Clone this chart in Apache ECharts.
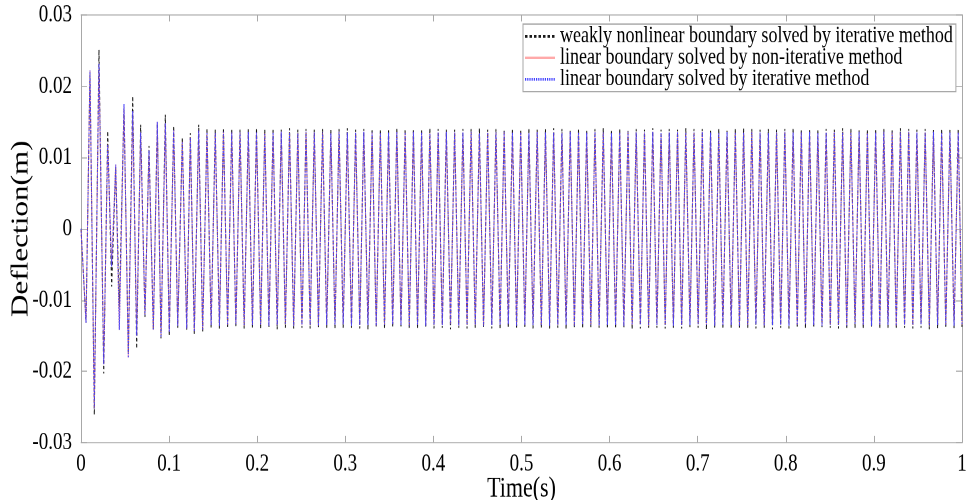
<!DOCTYPE html>
<html>
<head>
<meta charset="utf-8">
<script src="https://cdn.jsdelivr.net/npm/echarts@6/dist/echarts.min.js"></script>
<style>
	html, body { margin: 0; padding: 0; background: #fff; }
	#frame { width: 967px; height: 501px; position: relative; overflow: hidden; }
	/* the reference figure is stretched vertically, so draw flatter and stretch */
	#chart { position: absolute; left: 0; top: 0; width: 967px; height: 385.4px;
		transform: scaleY(1.3); transform-origin: 0 0; }
</style>
</head>
<body>
<div id="frame"><div id="chart"></div></div>
<script>
// times (s) of each turning point, start-up transient
var tStart = [
	0, 0.0057, 0.0102, 0.0151, 0.0204, 0.0258, 0.0303, 0.0348, 0.0394, 0.0435,
	0.0488, 0.0537, 0.0587, 0.0632, 0.0677, 0.0726, 0.0772, 0.0821, 0.0866, 0.0908,
	0.0957, 0.1002, 0.1052, 0.1098, 0.1150, 0.1200, 0.1241, 0.1286, 0.1336, 0.1381
];
// turning points after the transient (peak, trough, peak ...)
var tSteady = [
	0.1430, 0.1477, 0.1524, 0.1571, 0.1617, 0.1664, 0.1711, 0.1758, 0.1805, 0.1852,
	0.1899, 0.1946, 0.1992, 0.2039, 0.2086, 0.2133, 0.2180, 0.2227, 0.2273, 0.2320,
	0.2367, 0.2414, 0.2461, 0.2508, 0.2554, 0.2601, 0.2648, 0.2695, 0.2742, 0.2789,
	0.2836, 0.2883, 0.2929, 0.2976, 0.3023, 0.3070, 0.3117, 0.3164, 0.3210, 0.3257,
	0.3304, 0.3351, 0.3398, 0.3445, 0.3491, 0.3538, 0.3585, 0.3632, 0.3679, 0.3726,
	0.3773, 0.3820, 0.3866, 0.3913, 0.3960, 0.4007, 0.4054, 0.4101, 0.4147, 0.4194,
	0.4241, 0.4288, 0.4335, 0.4382, 0.4428, 0.4475, 0.4522, 0.4569, 0.4616, 0.4663,
	0.4710, 0.4757, 0.4803, 0.4850, 0.4897, 0.4944, 0.4991, 0.5038, 0.5084, 0.5131,
	0.5178, 0.5225, 0.5272, 0.5319, 0.5365, 0.5412, 0.5459, 0.5506, 0.5553, 0.5600,
	0.5647, 0.5694, 0.5740, 0.5787, 0.5834, 0.5881, 0.5928, 0.5975, 0.6021, 0.6068,
	0.6115, 0.6162, 0.6209, 0.6256, 0.6302, 0.6349, 0.6396, 0.6443, 0.6490, 0.6537,
	0.6584, 0.6631, 0.6677, 0.6724, 0.6771, 0.6818, 0.6865, 0.6912, 0.6958, 0.7005,
	0.7052, 0.7099, 0.7146, 0.7193, 0.7239, 0.7286, 0.7333, 0.7380, 0.7427, 0.7474,
	0.7521, 0.7568, 0.7614, 0.7661, 0.7708, 0.7755, 0.7802, 0.7849, 0.7895, 0.7942,
	0.7989, 0.8036, 0.8083, 0.8130, 0.8176, 0.8223, 0.8270, 0.8317, 0.8364, 0.8411,
	0.8458, 0.8505, 0.8551, 0.8598, 0.8645, 0.8692, 0.8739, 0.8786, 0.8832, 0.8879,
	0.8926, 0.8973, 0.9020, 0.9067, 0.9113, 0.9160, 0.9207, 0.9254, 0.9301, 0.9348,
	0.9395, 0.9442, 0.9488, 0.9535, 0.9582, 0.9629, 0.9676, 0.9723, 0.9769, 0.9816,
	0.9863, 0.9910, 0.9957, 1.0000
];

// weakly nonlinear boundary, iterative method (black dashed)
var nonlinStart = [
	0, -0.0132, 0.0220, -0.0261, 0.0251, -0.0203, 0.0137, -0.0081, 0.0086, -0.0110,
	0.0170, -0.0175, 0.0186, -0.0168, 0.0146, -0.0124, 0.0116, -0.0141, 0.0148, -0.0155,
	0.0160, -0.0150, 0.0144, -0.0139, 0.0128, -0.0142, 0.0134, -0.0148, 0.0146, -0.0145
];
var nonlinSteady = [
	0.0140,-0.0139,0.0139,-0.0140,0.0141,-0.0139,0.0140,-0.0138,0.0139,-0.0140,
	0.0140,-0.0139,0.0141,-0.0140,0.0139,-0.0139,0.0140,-0.0141,0.0139,-0.0139,
	0.0141,-0.0140,0.0139,-0.0139,0.0140,-0.0140,0.0139,-0.0138,0.0140,-0.0139,
	0.0139,-0.0140,0.0140,-0.0139,0.0141,-0.0139,0.0139,-0.0140,0.0140,-0.0141,
	0.0140,-0.0139,0.0139,-0.0140,0.0140,-0.0138,0.0141,-0.0139,0.0139,-0.0140,
	0.0140,-0.0140,0.0139,-0.0139,0.0141,-0.0140,0.0140,-0.0139,0.0139,-0.0141,
	0.0139,-0.0139,0.0140,-0.0140,0.0140,-0.0139,0.0141,-0.0138,0.0139,-0.0140,
	0.0140,-0.0141,0.0139,-0.0139,0.0140,-0.0140,0.0139,-0.0139,0.0141,-0.0140,
	0.0139,-0.0139,0.0140,-0.0140,0.0141,-0.0139,0.0140,-0.0141,0.0139,-0.0139,
	0.0140,-0.0140,0.0139,-0.0138,0.0140,-0.0139,0.0141,-0.0140,0.0139,-0.0140,
	0.0140,-0.0139,0.0139,-0.0141,0.0140,-0.0140,0.0139,-0.0139,0.0141,-0.0139,
	0.0139,-0.0140,0.0140,-0.0139,0.0139,-0.0140,0.0141,-0.0138,0.0140,-0.0139,
	0.0140,-0.0141,0.0139,-0.0139,0.0140,-0.0140,0.0139,-0.0139,0.0140,-0.0140,
	0.0141,-0.0139,0.0140,-0.0140,0.0139,-0.0139,0.0140,-0.0141,0.0139,-0.0139,
	0.0140,-0.0140,0.0141,-0.0139,0.0139,-0.0140,0.0140,-0.0139,0.0139,-0.0138,
	0.0140,-0.0139,0.0139,-0.0140,0.0141,-0.0141,0.0140,-0.0139,0.0139,-0.0140,
	0.0139,-0.0139,0.0140,-0.0140,0.0140,-0.0139,0.0139,-0.0140,0.0141,-0.0139,
	0.0140,-0.0140,0.0139,-0.0139,0.0140,-0.0141,0.0139,-0.0140,0.0140,-0.0139,
	0.0139,-0.0140,0.0140,-0.0139
];

// linear boundary, iterative method (blue dotted); the non-iterative
// solution (red) lies exactly under it
var linStart = [
	0, -0.0132, 0.0222, -0.0252, 0.0232, -0.0190, 0.0118, -0.0053, 0.0090, -0.0142,
	0.0175, -0.0181, 0.0165, -0.0150, 0.0135, -0.0121, 0.0110, -0.0142, 0.0150, -0.0152,
	0.0148, -0.0145, 0.0138, -0.0136, 0.0122, -0.0140, 0.0128, -0.0144, 0.0138, -0.0142
];
var linSteady = [
	0.0135,-0.0135,0.0134,-0.0136,0.0136,-0.0135,0.0135,-0.0134,0.0135,-0.0136,
	0.0136,-0.0135,0.0135,-0.0135,0.0134,-0.0136,0.0135,-0.0135,0.0136,-0.0134,
	0.0135,-0.0136,0.0134,-0.0135,0.0136,-0.0135,0.0135,-0.0136,0.0135,-0.0135,
	0.0134,-0.0135,0.0136,-0.0134,0.0135,-0.0136,0.0135,-0.0135,0.0136,-0.0135,
	0.0135,-0.0136,0.0134,-0.0135,0.0135,-0.0134,0.0136,-0.0135,0.0135,-0.0136,
	0.0136,-0.0135,0.0135,-0.0136,0.0134,-0.0135,0.0135,-0.0135,0.0136,-0.0134,
	0.0135,-0.0136,0.0135,-0.0135,0.0136,-0.0135,0.0134,-0.0136,0.0135,-0.0135,
	0.0135,-0.0135,0.0136,-0.0134,0.0135,-0.0136,0.0135,-0.0135,0.0134,-0.0135,
	0.0136,-0.0135,0.0135,-0.0136,0.0135,-0.0135,0.0134,-0.0135,0.0136,-0.0136,
	0.0135,-0.0134,0.0135,-0.0135,0.0136,-0.0136,0.0135,-0.0135,0.0134,-0.0135,
	0.0135,-0.0136,0.0136,-0.0135,0.0135,-0.0134,0.0135,-0.0136,0.0136,-0.0135,
	0.0134,-0.0135,0.0135,-0.0136,0.0136,-0.0135,0.0135,-0.0135,0.0135,-0.0134,
	0.0136,-0.0135,0.0135,-0.0136,0.0134,-0.0135,0.0136,-0.0135,0.0135,-0.0136,
	0.0135,-0.0135,0.0136,-0.0134,0.0135,-0.0136,0.0134,-0.0135,0.0135,-0.0135,
	0.0136,-0.0136,0.0135,-0.0135,0.0135,-0.0134,0.0136,-0.0135,0.0134,-0.0136,
	0.0135,-0.0135,0.0136,-0.0135,0.0135,-0.0136,0.0135,-0.0134,0.0136,-0.0135,
	0.0134,-0.0136,0.0135,-0.0135,0.0136,-0.0135,0.0135,-0.0136,0.0135,-0.0135,
	0.0136,-0.0135,0.0135,-0.0134,0.0135,-0.0136,0.0136,-0.0135,0.0134,-0.0135,
	0.0135,-0.0136,0.0135,-0.0135
];

var xTicks = ['0','0.1','0.2','0.3','0.4','0.5','0.6','0.7','0.8','0.9','1'];
var yTicks = ['-0.03','-0.02','-0.01','0','0.01','0.02','0.03'];

var names = [
	'weakly nonlinear boundary solved by iterative method',
	'linear boundary solved by non-iterative method',
	'linear boundary solved by iterative method'
];

function pairs(t, y) {
	var out = [];
	for (var i = 0; i < t.length && i < y.length; i++) out.push([t[i], y[i]]);
	return out;
}

window.onload = function () {
	var myChart = echarts.init(document.getElementById('chart'), null, {renderer: 'canvas', devicePixelRatio: 2});
	var serif = "'Liberation Serif', 'Times New Roman', serif";
	var time = tStart.concat(tSteady);
	var nonlin = pairs(time, nonlinStart.concat(nonlinSteady));
	var linIter = pairs(time, linStart.concat(linSteady));
	var linNonIter = linIter.slice();
	var boxColor = '#a8a8a8';

	function xAx(pos, labels) {
		return {
			type: 'value', position: pos, min: 0, max: 1, interval: 0.1,
			axisLine: {show: true, onZero: false, lineStyle: {color: boxColor, width: 0.8}},
			axisTick: {show: true, inside: true, length: 5, lineStyle: {color: boxColor}},
			axisLabel: {
				show: labels, margin: 7, color: '#000', fontFamily: serif, fontSize: 19,
				formatter: function (v) { return xTicks[Math.round(v * 10)]; }
			},
			splitLine: {show: false},
			name: labels ? 'Time(s)' : '', nameLocation: 'middle', nameGap: 25,
			nameMoveOverlap: false,
			nameTextStyle: {color: '#000', fontFamily: serif, fontSize: 22}
		};
	}
	function yAx(pos, labels) {
		return {
			type: 'value', position: pos, min: -0.03, max: 0.03, interval: 0.01,
			axisLine: {show: true, onZero: false, lineStyle: {color: boxColor, width: 1}},
			axisTick: {show: true, inside: true, length: 6, lineStyle: {color: boxColor, width: 0.8}},
			axisLabel: {
				show: labels, margin: 9, color: '#000', fontFamily: serif, fontSize: 19,
				formatter: function (v) { return yTicks[Math.round(v * 100) + 3]; }
			},
			splitLine: {show: false},
			name: labels ? 'Deflection(m)' : '', nameLocation: 'middle', nameGap: 48,
			nameMoveOverlap: false,
			nameTextStyle: {color: '#000', fontFamily: serif, fontSize: 24}
		};
	}

	var option = {
		animation: false,
		backgroundColor: '#fff',
		grid: {left: 81, right: 5, top: 11.5, bottom: 44.6, containLabel: false, outerBoundsMode: 'none'},
		legend: {
			orient: 'vertical',
			left: 523, top: 18.5,
			padding: [0.5, 3, 0.5, 1],
			itemWidth: 30, itemHeight: 12, itemGap: -1.5,
			borderColor: boxColor, borderWidth: 1,
			backgroundColor: '#fff',
			itemStyle: {opacity: 0},
			textStyle: {color: '#000', fontFamily: serif, fontSize: 18, lineHeight: 15.8},
			data: names
		},
		xAxis: [xAx('bottom', true), xAx('top', false)],
		yAxis: [yAx('left', true), yAx('right', false)],
		series: [
			{
				name: names[0], type: 'line', data: nonlin,
				symbol: 'none', symbolSize: 0, sampling: null, z: 2,
				color: '#1a1a1a',
				lineStyle: {color: '#1a1a1a', width: 1, type: [2.5, 2]}
			},
			{
				name: names[1], type: 'line', data: linNonIter,
				symbol: 'none', symbolSize: 0, z: 3,
				color: '#ff7070',
				lineStyle: {color: '#ff7070', width: 1, opacity: 0.6}
			},
			{
				name: names[2], type: 'line', data: linIter,
				symbol: 'none', symbolSize: 0, z: 4,
				color: '#4040ff',
				lineStyle: {color: '#4040ff', width: 1, type: [1.2, 1]}
			}
		]
	};

	myChart.setOption(option);
};
</script>
</body>
</html>
